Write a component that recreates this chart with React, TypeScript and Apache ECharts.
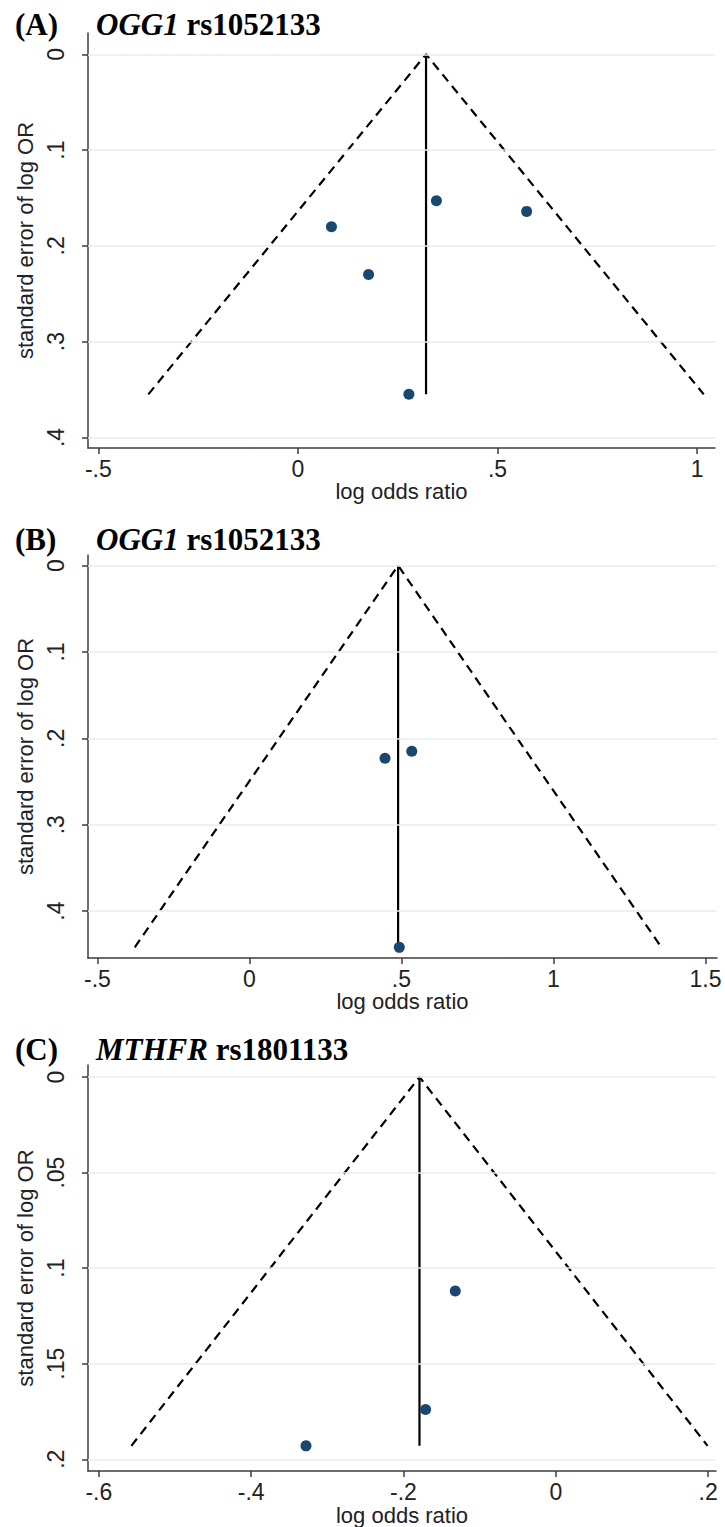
import React, { useEffect, useRef } from "react";
import * as echarts from "echarts";

// Panel A: OGG1 rs1052133
const A_lnOR = [0.347, 0.573, 0.084, 0.177, 0.278];
const A_se = [0.153, 0.164, 0.18, 0.23, 0.355];
const A_est = 0.321;
const A_xTicks = [-0.5, 0, 0.5, 1];
const A_yTicks = [0, 0.1, 0.2, 0.3, 0.4];

// Panel B: OGG1 rs1052133
const B_lnOR = [0.446, 0.534, 0.493];
const B_se = [0.223, 0.215, 0.442];
const B_est = 0.489;
const B_xTicks = [-0.5, 0, 0.5, 1, 1.5];
const B_yTicks = [0, 0.1, 0.2, 0.3, 0.4];

// Panel C: MTHFR rs1801133
const C_lnOR = [-0.132, -0.171, -0.328];
const C_se = [0.112, 0.174, 0.193];
const C_est = -0.179;
const C_xTicks = [-0.6, -0.4, -0.2, 0, 0.2];
const C_yTicks = [0, 0.05, 0.1, 0.15, 0.2];

const titles = [
  { tag: "(A)", gene: "OGG1", snp: "rs1052133" },
  { tag: "(B)", gene: "OGG1", snp: "rs1052133" },
  { tag: "(C)", gene: "MTHFR", snp: "rs1801133" },
];

const fmt = (v: number) => {
  if (v === 0) return "0";
  const s = String(+v.toFixed(4));
  return s.replace(/^(-?)0\./, "$1.");
};

const SANS = "'Liberation Sans', Arial, sans-serif";
const SERIF = "'Liberation Serif', 'Times New Roman', serif";
const AXIS_COLOR = "#3c3c3c";
const GRID_COLOR = "#e7ecec";
const MARKER = "#1a476f";

export default function App() {
  const ref = useRef<HTMLDivElement>(null);
  useEffect(() => {
    if (!ref.current) return;
    const chart = echarts.init(ref.current, null, { renderer: "svg" });

    const panels = [
      { lnOR: A_lnOR, se: A_se, est: A_est, xTicks: A_xTicks, yTicks: A_yTicks,
        grid: { left: 88, top: 33, width: 627, height: 415 },
        xr: [-0.526, 1.045], yr: [-0.0222, 0.411], titleY: 24 },
      { lnOR: B_lnOR, se: B_se, est: B_est, xTicks: B_xTicks, yTicks: B_yTicks,
        grid: { left: 88, top: 555, width: 629, height: 403 },
        xr: [-0.531, 1.538], yr: [-0.0122, 0.4543], titleY: 539 },
      { lnOR: C_lnOR, se: C_se, est: C_est, xTicks: C_xTicks, yTicks: C_yTicks,
        grid: { left: 88, top: 1065, width: 628, height: 407 },
        xr: [-0.6142, 0.2103], yr: [-0.0063, 0.2062], titleY: 1049 },
    ];

    const grids: any[] = [];
    const xAxes: any[] = [];
    const yAxes: any[] = [];
    const series: any[] = [];
    const graphics: any[] = [];

    panels.forEach((p, i) => {
      grids.push({ ...p.grid, containLabel: false });
      xAxes.push({
        type: "value", gridIndex: i, min: p.xr[0], max: p.xr[1],
        name: "log odds ratio", nameLocation: "middle", nameGap: 24,
        nameTextStyle: { fontFamily: SANS, fontSize: 22, color: "#222" },
        axisLine: { show: true, onZero: false, lineStyle: { color: AXIS_COLOR, width: 1.5 } },
        axisTick: { show: true, length: 6, customValues: p.xTicks, lineStyle: { color: AXIS_COLOR, width: 1.5 } },
        axisLabel: { show: true, customValues: p.xTicks, formatter: fmt, margin: 9,
          fontFamily: SANS, fontSize: 23, color: "#222" },
        splitLine: { show: false },
      });
      yAxes.push({
        type: "value", gridIndex: i, inverse: true, min: p.yr[0], max: p.yr[1],
        name: "standard error of log OR", nameLocation: "middle", nameGap: 46, nameRotate: 90,
        nameTextStyle: { fontFamily: SANS, fontSize: 22, color: "#222" },
        axisLine: { show: true, onZero: false, lineStyle: { color: AXIS_COLOR, width: 1.5 } },
        axisTick: { show: true, length: 6, customValues: p.yTicks, lineStyle: { color: AXIS_COLOR, width: 1.5 } },
        axisLabel: { show: true, customValues: p.yTicks, formatter: fmt, rotate: 90, margin: 21,
          fontFamily: SANS, fontSize: 23, color: "#222" },
        splitLine: { show: false },
      });

      const maxSe = Math.max(...p.se);
      // gridlines
      series.push({
        type: "scatter", xAxisIndex: i, yAxisIndex: i, data: [], z: 1, silent: true,
        markLine: {
          silent: true, symbol: ["none", "none"], label: { show: false },
          lineStyle: { color: GRID_COLOR, type: "solid", width: 1.5 },
          animation: false,
          data: p.yTicks.map((v) => ({ yAxis: v })),
        },
      });
      // pseudo confidence limits (dashed)
      series.push({
        type: "line", xAxisIndex: i, yAxisIndex: i, showSymbol: false, silent: true, z: 2,
        lineStyle: { color: "#000", width: 2.2, type: [9, 6] },
        data: [[p.est - 1.96 * maxSe, maxSe], [p.est, 0], [p.est + 1.96 * maxSe, maxSe]],
      });
      // pooled estimate line
      series.push({
        type: "line", xAxisIndex: i, yAxisIndex: i, showSymbol: false, silent: true, z: 3,
        lineStyle: { color: "#000", width: 2.2 },
        data: [[p.est, 0], [p.est, maxSe]],
      });
      // studies
      series.push({
        type: "scatter", xAxisIndex: i, yAxisIndex: i, z: 4, symbol: "circle", symbolSize: 11,
        itemStyle: { color: MARKER, opacity: 1 },
        data: p.lnOR.map((x, k) => [x, p.se[k]]),
      });

      const t = titles[i];
      graphics.push({
        type: "text", x: 15, y: p.titleY,
        style: { text: t.tag, font: `bold 31px ${SERIF}`, fill: "#000", verticalAlign: "middle" },
      });
      graphics.push({
        type: "text", x: 96, y: p.titleY,
        style: {
          text: `{i|${t.gene}} {b|${t.snp}}`, fill: "#000", verticalAlign: "middle",
          font: `bold 31px ${SERIF}`,
          rich: {
            i: { fontFamily: SERIF, fontSize: 31, fontWeight: "bold", fontStyle: "italic", fill: "#000" },
            b: { fontFamily: SERIF, fontSize: 31, fontWeight: "bold", fill: "#000" },
          },
        },
      });
    });

    chart.setOption({
      animation: false,
      backgroundColor: "#fff",
      grid: grids,
      xAxis: xAxes,
      yAxis: yAxes,
      series,
      graphic: graphics,
    });
    return () => chart.dispose();
  }, []);

  return (
    <div
      ref={ref}
      style={{ position: "fixed", left: 0, top: 0, width: 725, height: 1527, background: "#fff" }}
    />
  );
}
